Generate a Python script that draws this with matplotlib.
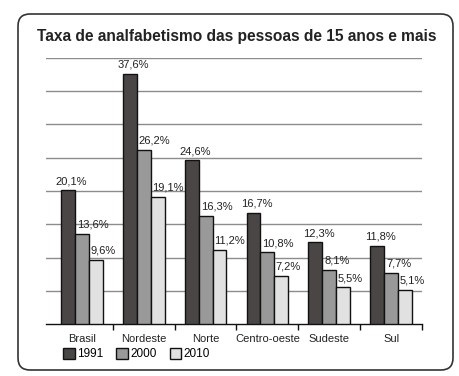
import matplotlib
matplotlib.use('Agg')
import matplotlib.pyplot as plt
from matplotlib.patches import FancyBboxPatch, Patch
from matplotlib.transforms import IdentityTransform
import numpy as np

plt.rcParams['font.family'] = ['Liberation Sans', 'DejaVu Sans']

regions = ['Brasil', 'Nordeste', 'Norte', 'Centro-oeste', 'Sudeste', 'Sul']
years = ['1991', '2000', '2010']
v1991 = [20.1, 37.6, 24.6, 16.7, 12.3, 11.8]
v2000 = [13.6, 26.2, 16.3, 10.8, 8.1, 7.7]
v2010 = [9.6, 19.1, 11.2, 7.2, 5.5, 5.1]
colors = ['#4a4646', '#9a9999', '#e1e1e1']
# horizontal shift of each year's value label, in points, from the bar's left edge
label_dx = [-4, 1.5, 1]

fig = plt.figure(figsize=(4.59, 3.76), dpi=100)
ax = fig.add_axes([46 / 459, 1 - 324 / 376, 376 / 459, 266 / 376])

x = np.arange(len(regions))
w = 0.225
for i, (vals, col) in enumerate(zip([v1991, v2000, v2010], colors)):
    bars = ax.bar(x + (i - 1) * w, vals, w, color=col, edgecolor='#111111',
                  linewidth=1.0, zorder=3)
    for b, v in zip(bars, vals):
        ax.annotate(('%.1f%%' % v).replace('.', ','),
                    (b.get_x(), b.get_height()),
                    xytext=(label_dx[i], 3), textcoords='offset points',
                    ha='left', va='bottom', fontsize=8, color='#222222', zorder=5)

ax.set_xlim(-0.58, 5.5)
ax.set_ylim(0, 40)
ax.set_yticks(np.arange(5, 41, 5))
ax.yaxis.grid(True, color='#8c8c8c', linewidth=1.0, zorder=0)
ax.tick_params(axis='y', length=0, labelleft=False)
for s in ['left', 'right', 'top']:
    ax.spines[s].set_visible(False)
ax.spines['bottom'].set_color('#111111')
ax.spines['bottom'].set_linewidth(1.0)

ax.set_xticks(x)
ax.set_xticklabels(regions, fontsize=8, color='#222222')
ax.tick_params(axis='x', which='major', length=0, pad=7)
ax.set_xticks(x + 0.5, minor=True)
ax.tick_params(axis='x', which='minor', length=4, width=1.0, color='#111111',
               direction='out')

fig.text(237 / 459, 1 - 36 / 376, 'Taxa de analfabetismo das pessoas de 15 anos e mais',
         ha='center', va='center', fontsize=11.2, fontweight='bold', color='#222222')

handles = [Patch(facecolor=c, edgecolor='#111111', linewidth=1.0) for c in colors]
fig.legend(handles, years, loc='lower left', bbox_to_anchor=(58 / 459, 11 / 376),
           ncol=3, frameon=False, fontsize=8.5, handlelength=1.0, handleheight=1.0,
           handletextpad=0.2, columnspacing=1.1, borderaxespad=0)

border = FancyBboxPatch((18, 6), 435, 356, boxstyle='round,pad=0,rounding_size=12',
                        transform=IdentityTransform(), fill=False,
                        edgecolor='#333333', linewidth=1.2)
fig.patches.append(border)

fig.savefig('out.png', dpi=100)
